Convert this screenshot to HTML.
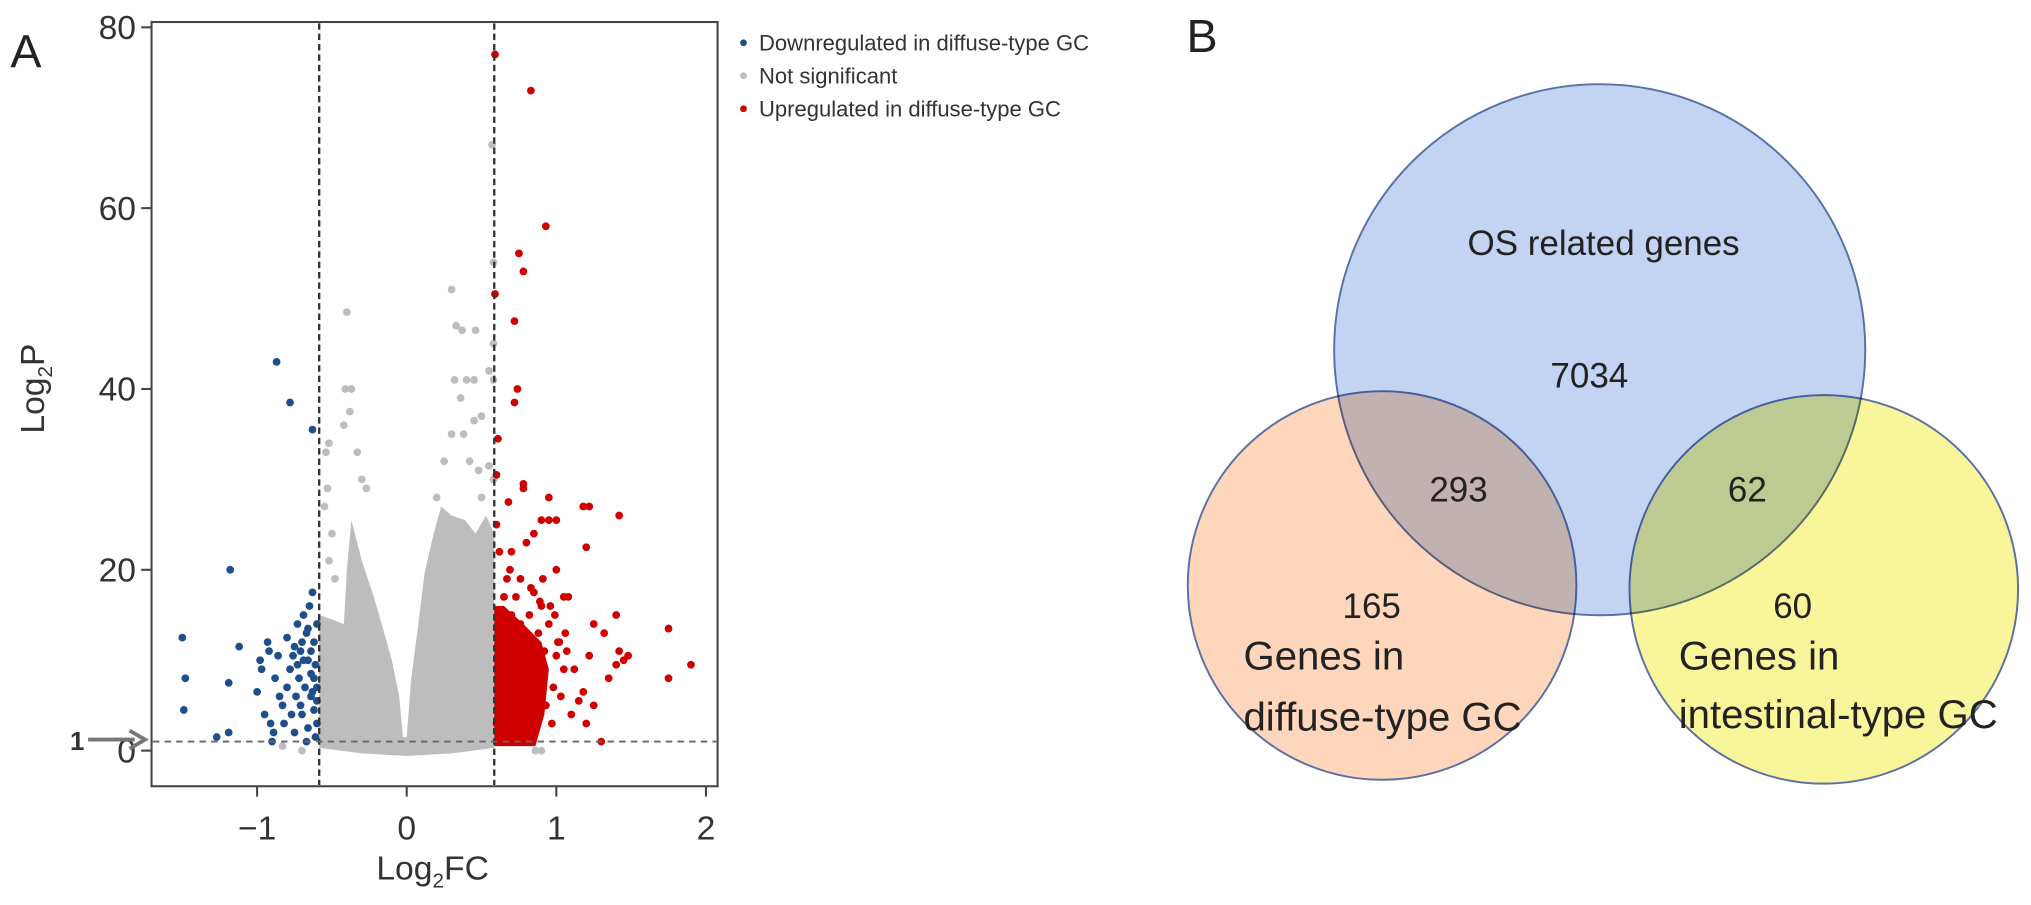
<!DOCTYPE html>
<html><head><meta charset="utf-8">
<style>
html,body{margin:0;padding:0;background:#fff;width:2031px;height:905px;overflow:hidden}
svg{display:block;font-family:"Liberation Sans",Arial,sans-serif}
</style></head>
<body>
<svg id="fig" width="2031" height="905" viewBox="0 0 2031 905" xmlns="http://www.w3.org/2000/svg">
<g transform="scale(1.2953)">
<g id="plotA"></g>
<g id="venn"></g>
</g>
</svg>
<script>
const xTicks=[-1,0,1,2];
const yTicks=[0,20,40,60,80];
const fcThresh=0.585;
const pThresh=1;
const blueX=[-0.87,-0.78,-0.63,-1.18,-1.5,-1.48,-1.49,-1.27,-1.19,-1.19,-1.12,-1.0,-0.98,-0.97,-0.95,-0.93,-0.92,-0.91,-0.9,-0.88,-0.85,-0.83,-0.82,-0.8,-0.8,-0.78,-0.76,-0.75,-0.74,-0.73,-0.72,-0.71,-0.7,-0.69,-0.68,-0.67,-0.66,-0.66,-0.65,-0.64,-0.64,-0.63,-0.62,-0.62,-0.61,-0.61,-0.6,-0.6,-0.6,-0.69,-0.71,-0.77,-0.86,-0.89,-0.64,-0.67,-0.6,-0.62,-0.7,-0.75,-0.73,-0.66,-0.63];
const blueY=[43,38.5,35.5,20,12.5,8,4.5,1.5,2,7.5,11.5,6.5,10,9,4,12,11,3,1,8,6,5,3,7,12.5,9,10.5,2,6,14,8,11,4,15,7,13,10,2.5,16,6,8.5,17.5,12,4.5,9.5,1.5,7,14,3,10,5,4,10.5,2,11,1,5.5,8,12,11.5,9.5,13.5,6.5];
const redX=[0.59,0.83,0.93,0.75,0.78,0.59,0.72,0.74,0.72,0.61,0.6,0.78,0.78,0.68,0.95,1.18,1.22,1.42,0.85,0.9,0.95,1.0,0.8,0.7,1.2,1.0,0.76,1.05,1.08,0.9,1.25,1.4,1.32,1.75,1.75,1.9,1.45,1.48,1.42,1.4,1.35,1.22,1.18,1.25,1.2,1.3,1.1,1.05,1.02,0.95,0.92,0.88,0.85,0.82,0.8,0.78,0.75,0.72,0.7,0.68,0.66,0.64,0.62,0.6,0.63,0.65,0.67,0.62,0.6,0.98,1.0,1.03,0.97,0.93,0.9,0.87,0.84,0.81,0.79,0.77,0.74,0.71,0.69,0.66,0.64,0.61,0.63,1.07,1.12,1.15,0.86,0.76,0.73,0.69,0.91,0.99,1.06,0.96,1.01,0.83,0.89];
const redY=[77,73,58,55,53,50.5,47.5,40,38.5,34.5,30.5,29.5,29,27.5,28,27,27,26,24,25.5,25.5,25.5,23,22,22.5,20,19,17,17,16,14,15,13,13.5,8,9.5,10,10.5,11,9.5,8,10.5,6.5,5,3,1,4,9,12,14,11,13,17.5,15,12,8,10,13,15,11,9,7,5,3,12,17,19,22,25,7,10.5,6,3,5,8,4,9.5,2,6,3.5,5.5,2,7,4,1.5,10,14,11,9,5.5,11.5,14,17,20,19,15,13,16,12,18,16.5];
const grayX=[-0.4,0.3,0.33,0.37,0.46,0.58,0.57,-0.37,-0.41,-0.38,-0.42,-0.52,-0.54,-0.33,-0.3,-0.27,-0.53,-0.55,-0.5,-0.52,-0.48,0.32,0.4,0.45,0.36,0.5,0.45,0.38,0.3,0.25,0.42,0.48,0.55,0.2,0.58,0.5,0.25,0.86,0.9,-0.83,-0.7,0.55,0.58,0.58];
const grayY=[48.5,51,47,46.5,46.5,54,67,40,40,37.5,36,34,33,33,30,29,29,27,24,21,19,41,41,41,39,37,36.5,35,35,32,32,31,31.5,28,30,28,24,0,0,0.5,0,42,41,45];
const cloudX=[-0.585,-0.585,-0.5,-0.42,-0.4,-0.37,-0.3,-0.22,-0.15,-0.1,-0.05,-0.025,0,0.03,0.07,0.12,0.18,0.23,0.3,0.39,0.46,0.53,0.585,0.585,0.3,0,-0.3];
const cloudY=[0.3,15,14.5,14,20,25.5,21,17,13,10,6,1.5,1.5,8,13,19.7,24,27,26,25.5,24,26,24,0.3,-0.3,-0.6,-0.3];
const redCoreX=[0.585,0.86,0.92,0.95,0.9,0.78,0.65,0.585];
const redCoreY=[0.5,0.5,4,9,12,14,16,16];
const legendLabels=["Downregulated in diffuse-type GC","Not significant","Upregulated in diffuse-type GC"];
const legendColors=["#1f4e8c","#bdbdbd","#d00000"];

const NS="http://www.w3.org/2000/svg";
function mk(tag,attrs,parent){const e=document.createElementNS(NS,tag);for(const k in attrs)e.setAttribute(k,attrs[k]);parent.appendChild(e);return e;}
const sx=v=>314+v*115.5;
const sy=v=>579.5-v*6.98;
const A=document.getElementById('plotA');

let d=cloudX.map((x,i)=>(i?'L':'M')+sx(x)+','+sy(cloudY[i])).join(' ')+'Z';
const cloud=mk('path',{d:d,fill:'#bdbdbd'},A);


d=redCoreX.map((x,i)=>(i?'L':'M')+sx(x)+','+sy(redCoreY[i])).join(' ')+'Z';
const core=mk('path',{d:d,fill:'#d00000'},A);



function pts(xs,ys,col,name){xs.forEach((x,i)=>{const c=mk('circle',{cx:sx(x),cy:sy(ys[i]),r:3,fill:col},A);

});}
pts(grayX,grayY,'#bdbdbd','gray-point');
pts(blueX,blueY,'#1f4e8c','down-point');
pts(redX,redY,'#d00000','up-point');

[-fcThresh,fcThresh].forEach(v=>{const l=mk('line',{x1:sx(v),x2:sx(v),y1:18,y2:606,stroke:'#333','stroke-width':1.8,'stroke-dasharray':'5,3'},A);

});
const hl=mk('line',{x1:118,x2:553,y1:sy(pThresh),y2:sy(pThresh),stroke:'#666','stroke-width':1.4,'stroke-dasharray':'5,4'},A);



const box=mk('rect',{x:117,y:17,width:437,height:590,fill:'none',stroke:'#444','stroke-width':1.6},A);


yTicks.forEach(v=>{const t=mk('line',{x1:109,x2:117,y1:sy(v),y2:sy(v),stroke:'#444','stroke-width':1.6},A);


const tx=mk('text',{x:105,y:sy(v)+9,'text-anchor':'end','font-size':26,fill:'#333'},A);tx.textContent=v;

});
xTicks.forEach(v=>{const t=mk('line',{x1:sx(v),x2:sx(v),y1:607,y2:615,stroke:'#444','stroke-width':1.6},A);


const tx=mk('text',{x:sx(v),y:648,'text-anchor':'middle','font-size':26,fill:'#333'},A);tx.textContent=v<0?'\u2212'+(-v):v;

});

legendLabels.forEach((s,i)=>{const y=33+i*25.5;
const c=mk('circle',{cx:574,cy:y,r:2.6,fill:legendColors[i]},A);


const t=mk('text',{x:586,y:y+6,'font-size':17,fill:'#333'},A);t.textContent=s;

});
</script>
<script>
(function(){
const A=document.getElementById('plotA');
A.insertAdjacentHTML('beforeend',
'<text x="8" y="52" font-size="36" fill="#222">A</text>'+
'<text transform="translate(34,300) rotate(-90)" text-anchor="middle" font-size="26" fill="#333">Log<tspan font-size="16" dy="6">2</tspan><tspan dy="-6">P</tspan></text>'+
'<text x="334" y="679" text-anchor="middle" font-size="26" fill="#333">Log<tspan font-size="16" dy="6">2</tspan><tspan dy="-6">FC</tspan></text>'+
'<text x="54" y="579" font-size="20" font-weight="bold" fill="#333">1</text>'+
'<line x1="68" y1="571" x2="104" y2="571" stroke="#777" stroke-width="3"/>'+
'<path d="M100,564 L112,571 L100,578" fill="none" stroke="#777" stroke-width="3"/>');
const V=document.getElementById('venn');
V.innerHTML=
'<text x="916" y="40" font-size="36" fill="#222">B</text>'+
'<g style="isolation:isolate">'+
'<circle cx="1235" cy="270" r="205" fill="#c3d3f2" stroke="#5a70a6" stroke-width="1.5"/>'+
'<circle cx="1067" cy="452" r="150" fill="#fdd6bb" stroke="#5a70a6" stroke-width="1.5" style="mix-blend-mode:multiply"/>'+
'<circle cx="1408" cy="455" r="150" fill="#f8f59a" stroke="#5a70a6" stroke-width="1.5" style="mix-blend-mode:multiply"/>'+
'</g>'+
'<g font-size="27" fill="#222" text-anchor="middle">'+
'<text x="1238" y="197">OS related genes</text>'+
'<text x="1227" y="299">7034</text>'+
'<text x="1126" y="387">293</text>'+
'<text x="1349" y="387">62</text>'+
'<text x="1059" y="477">165</text>'+
'<text x="1384" y="477">60</text>'+
'</g>'+
'<g font-size="31" fill="#222">'+
'<text x="960" y="517">Genes in</text>'+
'<text x="960" y="564">diffuse-type GC</text>'+
'<text x="1296" y="517">Genes in</text>'+
'<text x="1296" y="562">intestinal-type GC</text>'+
'</g>';
})();
</script>
</body></html>
